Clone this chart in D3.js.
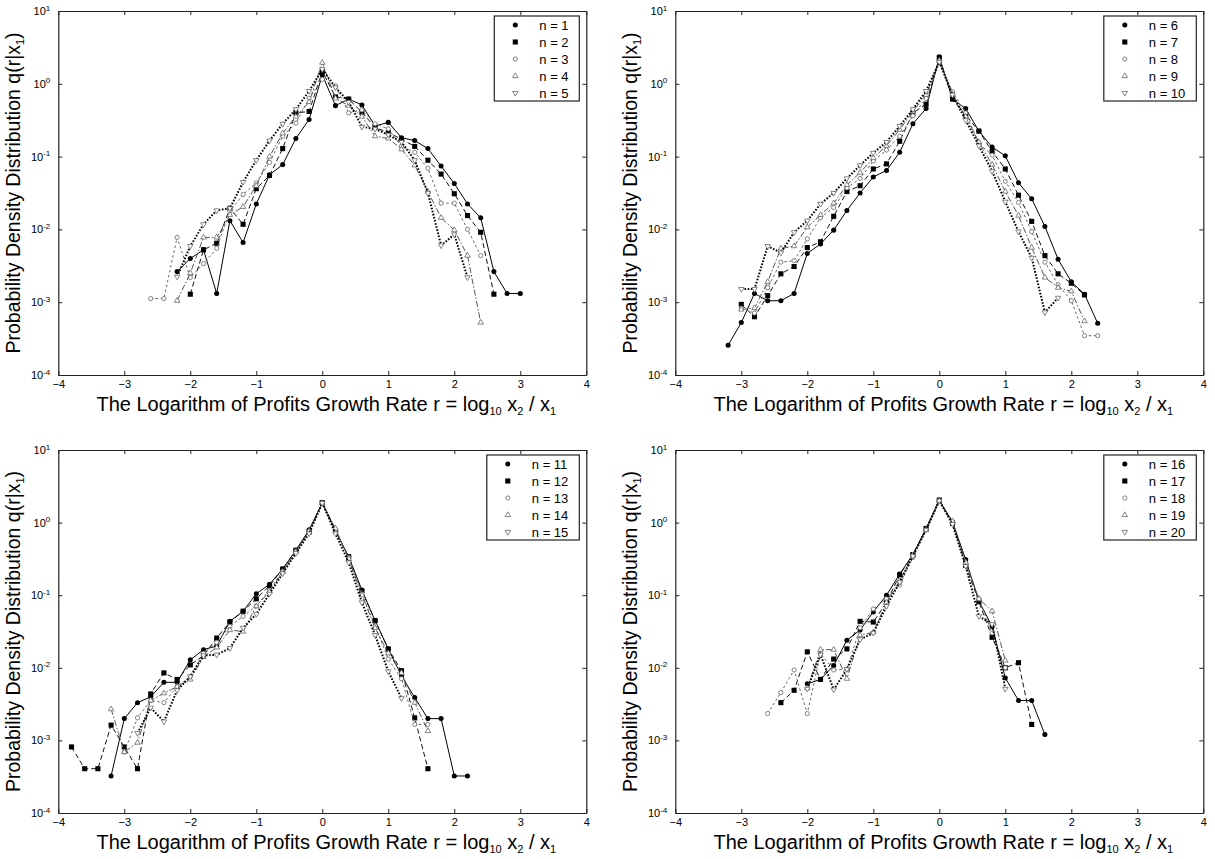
<!DOCTYPE html>
<html><head><meta charset="utf-8">
<script src="https://cdn.jsdelivr.net/npm/d3@7"></script>
<style>
body{margin:0;background:#fff}
svg{display:block}
text{font-family:"Liberation Sans",Arial,Helvetica,sans-serif;fill:#000}
</style>
</head><body>
<svg id="chart" width="1215" height="859"></svg>
<script>
// ---------- data ----------
const rStep = 0.2;
const xTicks = [-4, -3, -2, -1, 0, 1, 2, 3, 4];
const yExponents = [1, 0, -1, -2, -3, -4];
const legendA = ["n = 1", "n = 2", "n = 3", "n = 4", "n = 5"];
const legendB = ["n = 6", "n = 7", "n = 8", "n = 9", "n = 10"];
const legendC = ["n = 11", "n = 12", "n = 13", "n = 14", "n = 15"];
const legendD = ["n = 16", "n = 17", "n = 18", "n = 19", "n = 20"];

// each series: first r value, then log10 q(r|x1) every 0.2
const n1Start = -2.2;
const n1LogQ = [-2.58,-2.40,-2.28,-2.88,-1.88,-2.18,-1.65,-1.25,-1.11,-0.75,-0.49,0.12,-0.30,-0.21,-0.29,-0.58,-0.53,-0.74,-0.78,-0.89,-1.13,-1.37,-1.65,-1.84,-2.58,-2.88,-2.88];
const n2Start = -2.0;
const n2LogQ = [-2.89,-2.28,-2.19,-1.71,-1.93,-1.44,-1.26,-0.89,-0.40,-0.38,0.17,-0.18,-0.21,-0.39,-0.60,-0.67,-0.76,-0.86,-1.05,-1.24,-1.51,-1.81,-2.04,-2.89];
const n3Start = -2.6;
const n3LogQ = [-2.95,-2.95,-2.11,-2.66,-2.47,-2.26,-1.75,-1.52,-1.36,-1.08,-0.72,-0.54,-0.20,0.06,-0.03,-0.40,-0.36,-0.55,-0.62,-0.86,-0.94,-1.16,-1.64,-1.64,-2.00,-2.36];
const n4Start = -2.2;
const n4LogQ = [-2.98,-2.60,-2.11,-2.11,-1.80,-1.69,-1.40,-1.00,-0.68,-0.45,-0.25,0.29,-0.20,-0.30,-0.45,-0.72,-0.75,-0.90,-1.12,-1.48,-1.84,-2.01,-2.36,-3.28];
const n5Start = -2.2;
const n5LogQ = [-2.65,-2.23,-1.93,-1.74,-1.71,-1.35,-1.05,-0.78,-0.55,-0.35,-0.10,0.20,-0.05,-0.25,-0.59,-0.62,-0.70,-0.80,-1.05,-1.50,-2.22,-2.07,-2.66];

const n6Start = -3.2;
const n6LogQ = [-3.59,-3.28,-2.88,-2.98,-2.98,-2.88,-2.33,-2.20,-2.01,-1.74,-1.50,-1.28,-1.19,-0.94,-0.55,-0.34,0.37,-0.21,-0.34,-0.65,-0.87,-0.99,-1.36,-1.58,-1.96,-2.41,-2.72,-2.89,-3.29];
const n7Start = -3.0;
const n7LogQ = [-3.03,-3.20,-2.91,-2.61,-2.51,-2.25,-2.17,-1.82,-1.48,-1.40,-1.17,-1.10,-0.79,-0.40,-0.28,0.36,-0.21,-0.43,-0.65,-0.93,-1.17,-1.53,-1.89,-2.36,-2.61,-2.74,-2.90];
const n8Start = -3.0;
const n8LogQ = [-3.08,-3.15,-2.80,-2.45,-2.43,-2.13,-1.84,-1.70,-1.43,-1.30,-1.06,-0.91,-0.72,-0.44,-0.20,0.29,-0.11,-0.40,-0.82,-0.98,-1.34,-1.63,-2.03,-2.45,-2.76,-2.98,-3.46,-3.46];
const n9Start = -3.0;
const n9LogQ = [-3.10,-3.08,-2.72,-2.26,-2.23,-1.97,-1.80,-1.64,-1.39,-1.22,-1.02,-0.85,-0.63,-0.38,-0.15,0.32,-0.15,-0.45,-0.80,-1.11,-1.48,-1.81,-2.25,-2.66,-2.80,-2.85,-3.26];
const n10Start = -3.0;
const n10LogQ = [-2.82,-2.82,-2.23,-2.32,-2.04,-1.88,-1.65,-1.50,-1.30,-1.12,-0.95,-0.80,-0.58,-0.35,-0.10,0.30,-0.15,-0.50,-0.85,-1.20,-1.62,-2.03,-2.39,-3.14,-2.94];

const n11Start = -3.2;
const n11LogQ = [-3.49,-2.70,-2.48,-2.40,-2.20,-2.20,-1.89,-1.75,-1.70,-1.36,-1.22,-0.98,-0.85,-0.64,-0.38,-0.10,0.275,-0.11,-0.47,-0.93,-1.35,-1.74,-2.11,-2.41,-2.70,-2.70,-3.49,-3.49];
const n12Start = -3.8;
const n12LogQ = [-3.09,-3.39,-3.39,-2.79,-3.09,-3.39,-2.36,-2.07,-2.16,-1.96,-1.83,-1.59,-1.37,-1.22,-1.05,-0.87,-0.64,-0.38,-0.13,0.275,-0.12,-0.47,-0.94,-1.35,-1.74,-2.04,-2.69,-3.39];
const n13Start = -3.0;
const n13LogQ = [-3.16,-2.69,-2.45,-2.48,-2.26,-2.12,-1.80,-1.65,-1.43,-1.29,-1.15,-0.93,-0.67,-0.40,-0.12,0.27,-0.10,-0.48,-0.98,-1.42,-1.88,-2.15,-2.78,-2.78];
const n14Start = -3.2;
const n14LogQ = [-2.57,-3.16,-3.03,-2.45,-2.35,-2.26,-2.16,-1.85,-1.72,-1.48,-1.50,-1.15,-0.95,-0.68,-0.40,-0.12,0.27,-0.08,-0.50,-1.00,-1.45,-1.80,-2.07,-2.48,-2.87];
const n15Start = -2.8;
const n15LogQ = [-2.90,-2.55,-2.74,-2.31,-2.12,-1.83,-1.82,-1.73,-1.45,-1.26,-0.98,-0.70,-0.42,-0.15,0.27,-0.15,-0.55,-1.10,-1.55,-2.05,-2.42];

const n16Start = -2.0;
const n16LogQ = [-2.22,-2.16,-1.97,-1.62,-1.48,-1.23,-1.00,-0.71,-0.44,-0.08,0.31,0.01,-0.51,-1.08,-1.43,-2.14,-2.45,-2.45,-2.92];
const n17Start = -2.4;
const n17LogQ = [-2.48,-2.31,-1.78,-2.16,-1.88,-1.74,-1.36,-1.37,-1.10,-0.72,-0.44,-0.08,0.31,-0.01,-0.59,-1.09,-1.58,-2.00,-1.93,-2.78];
const n18Start = -2.6;
const n18LogQ = [-2.63,-2.34,-2.03,-2.63,-1.80,-2.03,-2.02,-1.45,-1.19,-1.05,-0.86,-0.48,-0.10,0.30,0.00,-0.55,-1.05,-1.52,-2.00];
const n19Start = -2.0;
const n19LogQ = [-2.28,-1.75,-1.75,-2.15,-1.55,-1.51,-1.10,-0.80,-0.45,-0.10,0.30,0.02,-0.55,-1.05,-1.22,-1.90];
const n20Start = -2.0;
const n20LogQ = [-2.29,-1.82,-2.30,-2.02,-1.61,-1.52,-1.15,-0.82,-0.46,-0.10,0.30,-0.02,-0.60,-1.29,-1.40,-2.29];

// ---------- layout ----------
const panels = [
  {x0: 58.3, x1: 586.3, y0: 11, y1: 375, legend: legendA, legW: 85,
   series: [[n1Start,n1LogQ],[n2Start,n2LogQ],[n3Start,n3LogQ],[n4Start,n4LogQ],[n5Start,n5LogQ]]},
  {x0: 675.3, x1: 1203.3, y0: 11, y1: 375, legend: legendB, legW: 92.5,
   series: [[n6Start,n6LogQ],[n7Start,n7LogQ],[n8Start,n8LogQ],[n9Start,n9LogQ],[n10Start,n10LogQ]]},
  {x0: 58.3, x1: 586.3, y0: 450, y1: 813, legend: legendC, legW: 92.5,
   series: [[n11Start,n11LogQ],[n12Start,n12LogQ],[n13Start,n13LogQ],[n14Start,n14LogQ],[n15Start,n15LogQ]]},
  {x0: 675.3, x1: 1203.3, y0: 450, y1: 813, legend: legendD, legW: 92.5,
   series: [[n16Start,n16LogQ],[n17Start,n17LogQ],[n18Start,n18LogQ],[n19Start,n19LogQ],[n20Start,n20LogQ]]}
];

const styles = [
  {dash: null,        stroke: "#000", width: 1,   sym: d3.symbolCircle,   size: 20, fill: "#000", mstroke: "none", rot: 0},
  {dash: "5,3",       stroke: "#111", width: 1,   sym: d3.symbolSquare,   size: 26, fill: "#000", mstroke: "none", rot: 0},
  {dash: "2.5,2.5",   stroke: "#666", width: 1,   sym: d3.symbolCircle,   size: 14, fill: "#fff", mstroke: "#666", rot: 0},
  {dash: "6,2,1.5,2", stroke: "#555", width: 1,   sym: d3.symbolTriangle, size: 13, fill: "#fff", mstroke: "#666", rot: 0},
  {dash: "1.6,1.6",   stroke: "#000", width: 2,   sym: d3.symbolTriangle, size: 13, fill: "#fff", mstroke: "#666", rot: 180}
];

const svg = d3.select("#chart");

panels.forEach(p => {
  const x = d3.scaleLinear().domain([-4, 4]).range([p.x0, p.x1]);
  const y = d3.scaleLog().domain([1e-4, 10]).range([p.y1, p.y0]);
  const g = svg.append("g");
  const yTickVals = yExponents.map(e => Math.pow(10, e));

  // axes with inward ticks
  const bottom = g.append("g").attr("transform", `translate(0,${p.y1})`)
    .call(d3.axisBottom(x).tickValues(xTicks).tickSizeInner(-4).tickSizeOuter(0).tickPadding(5).tickFormat(d3.format("d")));
  bottom.selectAll("text").attr("font-size", 11).style("font-family", '"Liberation Sans",Arial,sans-serif');
  g.append("g").attr("transform", `translate(0,${p.y0})`)
    .call(d3.axisTop(x).tickValues(xTicks).tickSizeInner(-4).tickSizeOuter(0).tickFormat(""));
  const left = g.append("g").attr("transform", `translate(${p.x0},0)`)
    .call(d3.axisLeft(y).tickValues(yTickVals).tickSizeInner(-4).tickSizeOuter(0).tickPadding(8).tickFormat(""));
  left.selectAll(".tick text").each(function(d) {
    const t = d3.select(this);
    t.attr("font-size", 11).attr("dy", "0.32em").style("font-family", '"Liberation Sans",Arial,sans-serif');
    t.append("tspan").text("10");
    t.append("tspan").attr("font-size", 8).attr("dy", "-0.55em").text(Math.round(Math.log10(d)));
  });
  g.append("g").attr("transform", `translate(${p.x1},0)`)
    .call(d3.axisRight(y).tickValues(yTickVals).tickSizeInner(-4).tickSizeOuter(0).tickFormat(""));
  g.selectAll(".domain").attr("stroke", "#222").attr("stroke-width", 1.2);
  g.selectAll(".tick line").attr("stroke", "#222");

  // series
  p.series.forEach((s, i) => {
    const st = styles[i];
    const pts = s[1].map((v, k) => ({r: s[0] + k * rStep, q: Math.pow(10, v)}));
    const line = d3.line().x(d => x(d.r)).y(d => y(d.q));
    g.append("path").datum(pts)
      .attr("d", line).attr("fill", "none")
      .attr("stroke", st.stroke).attr("stroke-width", st.width)
      .attr("stroke-dasharray", st.dash);
    g.selectAll(null).data(pts).enter().append("path")
      .attr("d", d3.symbol().type(st.sym).size(st.size))
      .attr("transform", d => `translate(${x(d.r)},${y(d.q)}) rotate(${st.rot})`)
      .attr("fill", st.fill).attr("stroke", st.mstroke).attr("stroke-width", 0.8);
  });

  // legend
  const lx = p.x1 - 7 - p.legW, ly = p.y0 + 5;
  g.append("rect").attr("x", lx).attr("y", ly).attr("width", p.legW).attr("height", 85)
    .attr("fill", "#fff").attr("stroke", "#222").attr("stroke-width", 1.2);
  p.legend.forEach((lab, i) => {
    const st = styles[i];
    const cy = ly + 9 + i * 17;
    g.append("path").attr("d", d3.symbol().type(st.sym).size(st.size))
      .attr("transform", `translate(${lx + 21},${cy}) rotate(${st.rot})`)
      .attr("fill", st.fill).attr("stroke", st.mstroke).attr("stroke-width", 0.8);
    g.append("text").attr("x", lx + 45).attr("y", cy + 4.5).attr("font-size", 13).text(lab);
  });

  // axis titles
  const xt = g.append("text").attr("x", (p.x0 + p.x1) / 2 + 4).attr("y", p.y1 + 36)
    .attr("text-anchor", "middle").attr("font-size", 20);
  xt.append("tspan").text("The Logarithm of Profits Growth Rate r = log");
  xt.append("tspan").attr("font-size", 11).attr("dy", 4).text("10");
  xt.append("tspan").attr("dy", -4).text(" x");
  xt.append("tspan").attr("font-size", 11).attr("dy", 4).text("2");
  xt.append("tspan").attr("dy", -4).text(" / x");
  xt.append("tspan").attr("font-size", 11).attr("dy", 4).text("1");

  const cx = p.x0 - 38, cyT = (p.y0 + p.y1) / 2;
  const yt = g.append("text").attr("transform", `translate(${cx},${cyT}) rotate(-90)`)
    .attr("text-anchor", "middle").attr("font-size", 19.5);
  yt.append("tspan").text("Probability Density Distribution q(r|x");
  yt.append("tspan").attr("font-size", 11).attr("dy", 4).text("1");
  yt.append("tspan").attr("dy", -4).text(")");
});
</script>
</body></html>
